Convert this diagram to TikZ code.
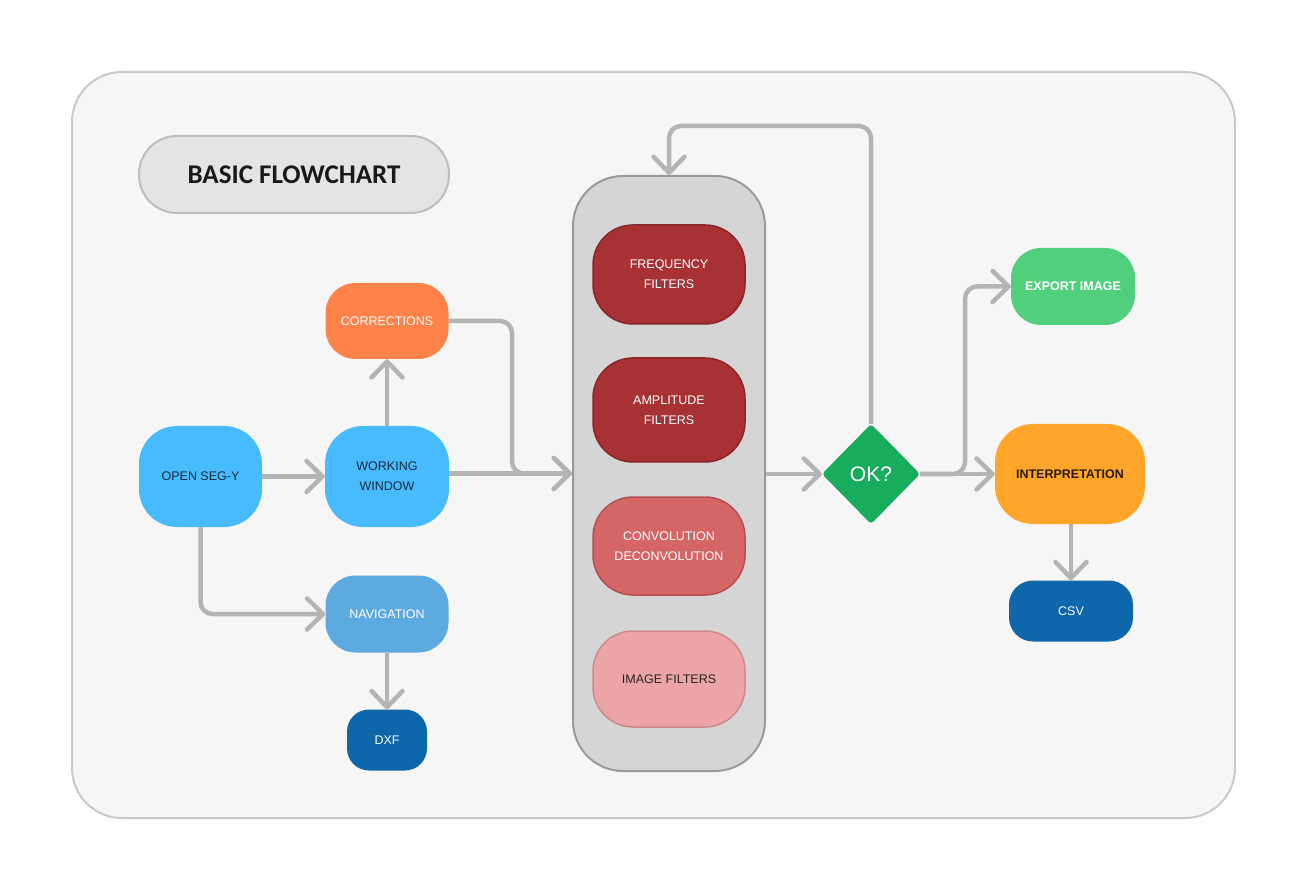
\documentclass[tikz,border=0pt]{standalone}
\usepackage{fontspec}
\setmainfont{Liberation Sans}
\newfontfamily\titlefont{Carlito}
\usetikzlibrary{arrows.meta,shapes.geometric}
\definecolor{framefill}{HTML}{F6F6F6}
\definecolor{framedraw}{HTML}{C9C9C9}
\definecolor{titlefill}{HTML}{E4E4E4}
\definecolor{titledraw}{HTML}{BDBDBD}
\definecolor{skyblue}{HTML}{48BBFE}
\definecolor{corange}{HTML}{FF824A}
\definecolor{navblue}{HTML}{5DAAE1}
\definecolor{darkblue}{HTML}{0E66AB}
\definecolor{contfill}{HTML}{D5D5D5}
\definecolor{contdraw}{HTML}{9A9A9A}
\definecolor{redfill}{HTML}{A73133}
\definecolor{reddraw}{HTML}{8A2628}
\definecolor{pinkfill}{HTML}{D46666}
\definecolor{pinkdraw}{HTML}{B54E50}
\definecolor{lpinkfill}{HTML}{EDA4A6}
\definecolor{lpinkdraw}{HTML}{C98A8C}
\definecolor{okgreen}{HTML}{17AD5C}
\definecolor{lgreen}{HTML}{52CF7C}
\definecolor{amber}{HTML}{FFA62A}
\definecolor{conncol}{HTML}{B4B4B4}
\definecolor{navytext}{HTML}{1C2B3A}
\definecolor{browntext}{HTML}{2A1A05}
\tikzset{
  box/.style={rectangle, inner sep=0pt, align=center, font=\fontsize{12.5}{20}\selectfont},
  conn/.style={draw=conncol, line width=4.5pt, rounded corners=12pt,
    -{Straight Barb[length=16pt,width=31pt,round]}},
}
\begin{document}
\begin{tikzpicture}[x=1pt,y=-1pt]
\useasboundingbox (0,0) rectangle (1307,890);
\fill[white] (0,0) rectangle (1307,890);
\draw[framedraw, fill=framefill, line width=2pt, rounded corners=50pt] (72,72) rectangle (1235,818);

% title
\node[box, draw=titledraw, fill=titlefill, line width=2pt, rounded corners=38pt,
  minimum width=310pt, minimum height=77pt, font=\titlefont\bfseries\fontsize{27}{30}\selectfont,
  text=black!90] (title) at (294,174.5) {BASIC FLOWCHART};

% container
\node[box, draw=contdraw, fill=contfill, line width=2pt, rounded corners=50pt,
  minimum width=192pt, minimum height=595pt] (cont) at (669,473.5) {};

% left nodes
\node[box, fill=skyblue, rounded corners=38pt, minimum width=123pt, minimum height=101pt, text=navytext] (open) at (200.5,476.5) {OPEN SEG-Y};
\node[box, fill=skyblue, rounded corners=38pt, minimum width=124pt, minimum height=101pt, text=navytext] (work) at (387,476.5) {WORKING\\WINDOW};
\node[box, fill=corange, rounded corners=30pt, minimum width=123pt, minimum height=76pt, text=white] (corr) at (387,321) {CORRECTIONS};
\node[box, fill=navblue, rounded corners=30pt, minimum width=123pt, minimum height=77pt, text=white] (nav) at (387,614) {NAVIGATION};
\node[box, fill=darkblue, rounded corners=22pt, minimum width=80pt, minimum height=61pt, text=white] (dxf) at (387,740) {DXF};

% filters
\node[box, fill=redfill, draw=reddraw, line width=1.5pt, rounded corners=40pt, minimum width=152pt, minimum height=99pt, text=white] (freq) at (669,274.5) {FREQUENCY\\FILTERS};
\node[box, fill=redfill, draw=reddraw, line width=1.5pt, rounded corners=40pt, minimum width=152pt, minimum height=104pt, text=white] (amp) at (669,410) {AMPLITUDE\\FILTERS};
\node[box, fill=pinkfill, draw=pinkdraw, line width=1.5pt, rounded corners=40pt, minimum width=152pt, minimum height=98pt, text=white] (conv) at (669,546) {CONVOLUTION\\DECONVOLUTION};
\node[box, fill=lpinkfill, draw=lpinkdraw, line width=1.5pt, rounded corners=40pt, minimum width=152pt, minimum height=96pt, text=black!85] (img) at (669,679) {IMAGE FILTERS};

% decision
\node[diamond, fill=okgreen, draw=okgreen, line width=1pt, rounded corners=3pt, inner sep=0pt,
  minimum width=97pt, minimum height=99pt, text=white, font=\fontsize{21}{24}\selectfont] (ok) at (871,474) {OK?};

% right nodes
\node[box, fill=lgreen, rounded corners=30pt, minimum width=124pt, minimum height=77pt, text=white, font=\bfseries\fontsize{12.5}{20}\selectfont] (exp) at (1073,286.5) {EXPORT IMAGE};
\node[box, fill=amber, rounded corners=38pt, minimum width=150pt, minimum height=100pt, text=browntext, font=\bfseries\fontsize{12.5}{20}\selectfont] (interp) at (1070,474) {INTERPRETATION};
\node[box, fill=darkblue, rounded corners=24pt, minimum width=124pt, minimum height=61pt, text=white] (csv) at (1071,611) {CSV};

% connectors
\coordinate (cj1) at (512,321);
\coordinate (cj2) at (512,473.5);
\coordinate (loop) at (871,126);
\coordinate (br) at (965,474);

\draw[conn] (open) -- (work);
\draw[conn] (work) -- (corr);
\draw[conn] (open.south) |- (nav.west);
\draw[conn] (nav) -- (dxf);
\draw[conn] (work.east |- cont.west) -- (cont.west);
\draw[conn] (corr.east) -- (cj1) -- (cj2) -- (cont.west);
\draw[conn] (cont.east |- ok.west) -- (ok.west);
\draw[conn] (ok.north) -- (loop) -| (cont.north);
\draw[conn] (ok.east) -- (interp.west);
\draw[conn] (ok.east) -- (br) |- (exp.west);
\draw[conn] (interp.south -| csv.north) -- (csv.north);
\end{tikzpicture}
\end{document}
